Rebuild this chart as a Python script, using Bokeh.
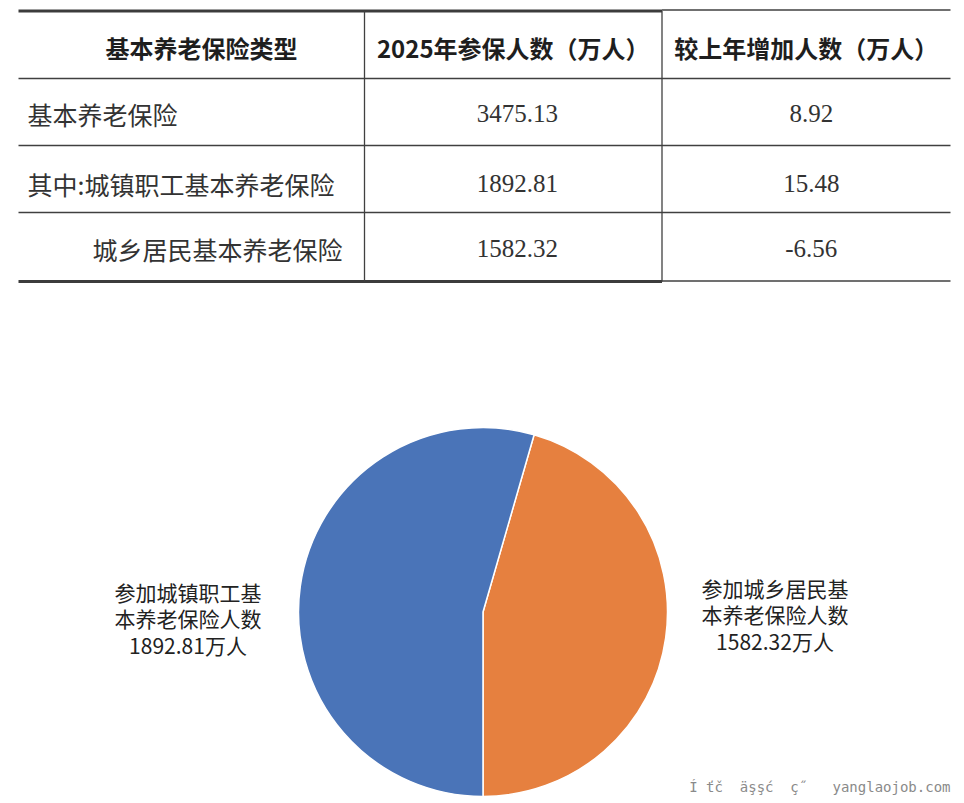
import math
from bokeh.plotting import figure
from bokeh.models import Range1d, ColumnDataSource
from bokeh.core.properties import value
from bokeh.embed import file_html
from bokeh.resources import INLINE

# ---------------- data ----------------
headers = ["基本养老保险类型", "2025年参保人数（万人）", "较上年增加人数（万人）"]
types = ["基本养老保险", "其中:城镇职工基本养老保险", "城乡居民基本养老保险"]
insured_2025 = [3475.13, 1892.81, 1582.32]
change_vs_last_year = [8.92, 15.48, -6.56]

pie_names = ["参加城乡居民基\n本养老保险人数", "参加城镇职工基\n本养老保险人数"]
pie_values = [1582.32, 1892.81]
pie_colors = ["#E6803F", "#4A74B8"]
watermark = "Í\u00a0ťč\u00a0\u00a0äşşć\u00a0\u00a0ç˝\u00a0\u00a0\u00a0yanglaojob.com"

# ---------------- layout ----------------
W, H = 964, 803
def Y(px):
    return H - px

p = figure(width=W, height=H, output_backend="svg", toolbar_location=None,
           x_range=Range1d(0, W), y_range=Range1d(0, H),
           x_axis_location=None, y_axis_location=None, min_border=0)
p.outline_line_color = None
p.xgrid.visible = False
p.ygrid.visible = False
p.background_fill_color = "white"
p.border_fill_color = "white"

CJK = "Noto Sans CJK SC"
line_col = "#404040"

# table geometry
x_left, x_c1, x_c2, x_right = 18, 364, 661.5, 950
row_lines = [78, 145, 212]
y_top, y_bot = 10.5, 281

p.segment(x0=[x_left, x_left], y0=[Y(y_top), Y(y_bot)], x1=[x_c2, x_c2], y1=[Y(y_top), Y(y_bot)],
          line_color="#3c3c3c", line_width=3)
p.segment(x0=[x_c2, x_c2], y0=[Y(9.5), Y(280.5)], x1=[x_right, x_right], y1=[Y(9.5), Y(280.5)],
          line_color=line_col, line_width=1.3)
p.segment(x0=[x_left] * 3, y0=[Y(r) for r in row_lines], x1=[x_right] * 3, y1=[Y(r) for r in row_lines],
          line_color=line_col, line_width=1.3)
p.segment(x0=[x_c1, x_c2], y0=[Y(y_top), Y(y_top)], x1=[x_c1, x_c2], y1=[Y(y_bot), Y(y_bot)],
          line_color=line_col, line_width=1.3)

# headers
hdr_x = [201, (x_c1 + x_c2) / 2, (x_c2 + x_right) / 2]
p.text(x=hdr_x, y=[Y(47)] * 3, text=headers, text_font=value(CJK), text_font_style="bold",
       text_font_size="24px", text_color="#1e1e1e", text_align="center", text_baseline="middle")

# row labels
row_y = [113, 183, 248]
p.text(x=[27, 27], y=[Y(row_y[0]), Y(row_y[1])], text=types[:2], text_font=value(CJK),
       text_font_size="25px", text_color="#333333", text_align="left", text_baseline="middle")
p.text(x=[342], y=[Y(row_y[2])], text=types[2:], text_font=value(CJK),
       text_font_size="25px", text_color="#333333", text_align="right", text_baseline="middle")

# numbers
p.text(x=[(x_c1 + x_c2) / 2 + 4] * 3, y=[Y(v) for v in row_y],
       text=[f"{v:.2f}" for v in insured_2025], text_font=value("Liberation Serif"),
       text_font_size="25px", text_color="#333333", text_align="center", text_baseline="middle")
p.text(x=[(x_c2 + x_right) / 2 + 5] * 3, y=[Y(v) for v in row_y],
       text=[f"{v:.2f}" for v in change_vs_last_year], text_font=value("Liberation Serif"),
       text_font_size="25px", text_color="#333333", text_align="center", text_baseline="middle")

# ---------------- pie ----------------
total = sum(pie_values)
starts, ends = [], []
a = -math.pi / 2
for v in pie_values:
    starts.append(a)
    a += 2 * math.pi * v / total
    ends.append(a)
cx, cy, r = 482.5, 611.5, 184.5
src = ColumnDataSource(dict(start=starts, end=ends, color=pie_colors))
p.wedge(x=cx, y=Y(cy), radius=r, start_angle="start", end_angle="end", direction="anticlock",
        fill_color="color", line_color="white", line_width=1.5, source=src)

# pie labels
lbl_text = [f"{n}\n{v:.2f}万人" for n, v in zip(pie_names, pie_values)]
p.text(x=[774.5, 187.5], y=[Y(614), Y(618)], text=lbl_text, text_font=value(CJK),
       text_font_size="21px", text_color="#222222", text_align="center", text_baseline="middle",
       text_line_height=0.88)

# watermark
p.text(x=[950], y=[Y(786)], text=[watermark], text_font=value("DejaVu Sans Mono"),
       text_font_size="14px", text_color="#8a8a8a", text_align="right", text_baseline="middle")

open("out.html", "w").write(file_html(p, INLINE))
